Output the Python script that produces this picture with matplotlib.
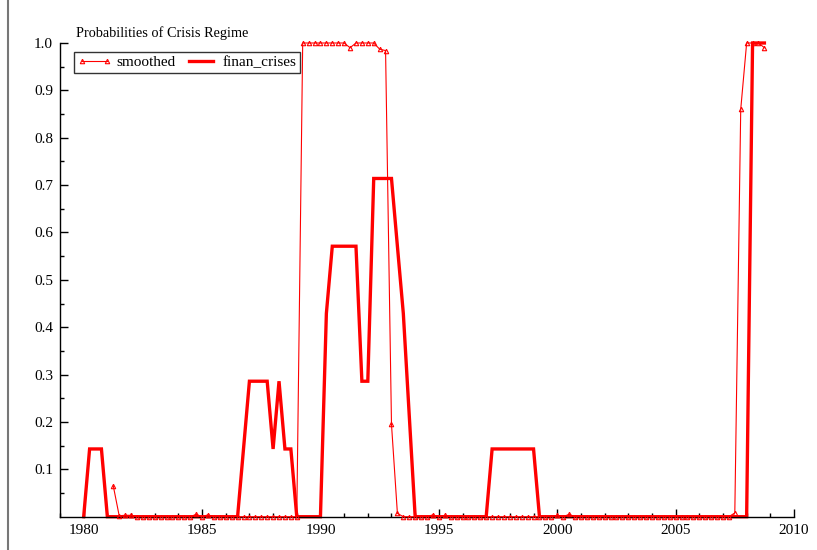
import matplotlib
matplotlib.use("Agg")
import matplotlib.pyplot as plt
from matplotlib.lines import Line2D
from matplotlib.ticker import MultipleLocator, FixedLocator
import numpy as np

plt.rcParams['font.family'] = ['Liberation Serif', 'DejaVu Serif']

# Quarterly data
crises_start = 1980.0
finan_crises = [
    0, 0.143, 0.143, 0.143,      # 1980
    0, 0, 0, 0,                  # 1981
    0, 0, 0, 0,                  # 1982
    0, 0, 0, 0,                  # 1983
    0, 0, 0, 0,                  # 1984
    0, 0, 0, 0,                  # 1985
    0, 0, 0, 0.143,              # 1986
    0.286, 0.286, 0.286, 0.286,  # 1987
    0.143, 0.286, 0.143, 0.143,  # 1988
    0, 0, 0, 0,                  # 1989
    0, 0.429, 0.571, 0.571,      # 1990
    0.571, 0.571, 0.571, 0.286,  # 1991
    0.286, 0.714, 0.714, 0.714,  # 1992
    0.714, 0.571, 0.429, 0.214,  # 1993
    0, 0, 0, 0,                  # 1994
    0, 0, 0, 0,                  # 1995
    0, 0, 0, 0,                  # 1996
    0, 0.143, 0.143, 0.143,      # 1997
    0.143, 0.143, 0.143, 0.143,  # 1998
    0.143, 0, 0, 0,              # 1999
    0, 0, 0, 0,                  # 2000
    0, 0, 0, 0,                  # 2001
    0, 0, 0, 0,                  # 2002
    0, 0, 0, 0,                  # 2003
    0, 0, 0, 0,                  # 2004
    0, 0, 0, 0,                  # 2005
    0, 0, 0, 0,                  # 2006
    0, 0, 0, 0,                  # 2007
    0, 1.0, 1.0, 1.0,            # 2008
]

smoothed_start = 1981.25
smoothed = [
    0.065, 0.002, 0.003,              # 1981 Q2-Q4
    0.003, 0.0, 0.0, 0.0,             # 1982
    0.0, 0.0, 0.0, 0.0,               # 1983
    0.0, 0.0, 0.0, 0.005,             # 1984
    0.0, 0.004, 0.0, 0.0,             # 1985
    0.0, 0.0, 0.0, 0.0,               # 1986
    0.0, 0.0, 0.0, 0.0,               # 1987
    0.0, 0.0, 0.0, 0.0,               # 1988
    0.0, 1.0, 1.0, 1.0,               # 1989
    1.0, 1.0, 1.0, 1.0,               # 1990
    1.0, 0.99, 1.0, 1.0,              # 1991
    1.0, 1.0, 0.987, 0.984,           # 1992
    0.195, 0.007, 0.0, 0.0,           # 1993
    0.0, 0.0, 0.0, 0.004,             # 1994
    0.0, 0.003, 0.0, 0.0,             # 1995
    0.0, 0.0, 0.0, 0.0,               # 1996
    0.0, 0.0, 0.0, 0.0,               # 1997
    0.0, 0.0, 0.0, 0.0,               # 1998
    0.0, 0.0, 0.0, 0.0,               # 1999
    0.003, 0.0, 0.005, 0.0,           # 2000
    0.0, 0.0, 0.0, 0.0,               # 2001
    0.0, 0.0, 0.0, 0.0,               # 2002
    0.0, 0.0, 0.0, 0.0,               # 2003
    0.0, 0.0, 0.0, 0.0,               # 2004
    0.0, 0.0, 0.0, 0.0,               # 2005
    0.0, 0.0, 0.0, 0.0,               # 2006
    0.0, 0.0, 0.008, 0.86,            # 2007
    1.0, 1.0, 1.0, 0.99,              # 2008
]

x_ticks = [1980, 1985, 1990, 1995, 2000, 2005, 2010]
y_ticks = [0.1, 0.2, 0.3, 0.4, 0.5, 0.6, 0.7, 0.8, 0.9, 1.0]
title = "Probabilities of Crisis Regime"

t_crises = crises_start + 0.25 * np.arange(len(finan_crises))
t_smooth = smoothed_start + 0.25 * np.arange(len(smoothed))

W, H = 817, 550
fig = plt.figure(figsize=(W / 100, H / 100), dpi=100)
left, right, top, bottom = 60, 794, 43, 516.7
ax = fig.add_axes([left / W, 1 - bottom / H, (right - left) / W, (bottom - top) / H])

ax.plot(t_smooth, smoothed, color='red', lw=0.8, marker='^', markersize=3.2,
        markerfacecolor='none', markeredgewidth=0.8, clip_on=False, label='smoothed', zorder=3)
ax.plot(t_crises, finan_crises, color='red', lw=2.4, clip_on=False, label='finan_crises',
        solid_joinstyle='miter', zorder=2)

ax.set_xlim(1979, 2010)
ax.set_ylim(0, 1.0)
for s in ['top', 'right']:
    ax.spines[s].set_visible(False)
for s in ['left', 'bottom']:
    ax.spines[s].set_linewidth(1.0)
    ax.spines[s].set_color('black')

ax.xaxis.set_major_locator(FixedLocator(x_ticks))
ax.xaxis.set_minor_locator(MultipleLocator(1))
ax.yaxis.set_major_locator(FixedLocator(y_ticks))
ax.yaxis.set_minor_locator(FixedLocator(np.arange(0.05, 1.0, 0.1)))
ax.set_yticklabels([f"{v:.1f}" for v in y_ticks])
ax.tick_params(axis='both', which='major', direction='in', length=6, width=1.0,
               labelsize=11, pad=5)
ax.tick_params(axis='both', which='minor', direction='in', length=3, width=1.0)
ax.tick_params(axis='x', which='major', pad=5)

fig.text(76 / W, 1 - 33 / H, title, fontsize=10.3, ha='left', va='center')

leg = ax.legend(loc='upper left', bbox_to_anchor=(0.019, 0.982), ncol=2, frameon=True,
                fancybox=False, edgecolor='black', fontsize=11, borderaxespad=0,
                handlelength=2.2, handletextpad=0.3, columnspacing=0.6,
                borderpad=0.25, numpoints=2)
leg.get_frame().set_linewidth(1.0)

fig.add_artist(Line2D([8 / W, 8 / W], [0, 1], color='#777777', lw=1.5, transform=fig.transFigure))

fig.savefig('out.png', dpi=100)
